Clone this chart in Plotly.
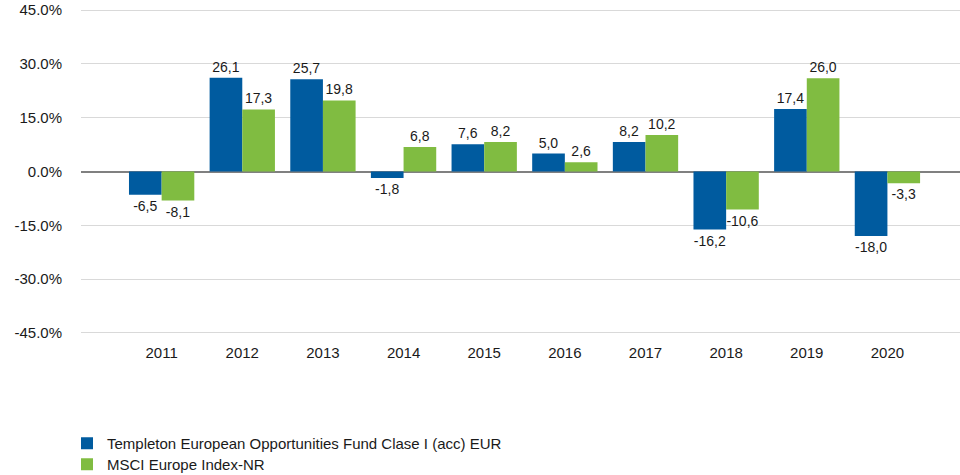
import plotly.graph_objects as go

years = ["2011", "2012", "2013", "2014", "2015", "2016", "2017", "2018", "2019", "2020"]
fund = [-6.5, 26.1, 25.7, -1.8, 7.6, 5.0, 8.2, -16.2, 17.4, -18.0]
index = [-8.1, 17.3, 19.8, 6.8, 8.2, 2.6, 10.2, -10.6, 26.0, -3.3]
fund_name = "Templeton European Opportunities Fund Clase I (acc) EUR"
index_name = "MSCI Europe Index-NR"
y_ticks = [-45, -30, -15, 0, 15, 30, 45]
y_ticklabels = ["-45.0%", "-30.0%", "-15.0%", "0.0%", "15.0%", "30.0%", "45.0%"]

BLUE = "#005B9F"
GREEN = "#80BC41"
FONT = "Liberation Sans, Arial, sans-serif"
TXT = "#1a1a1a"


def lab(v):
    return f"{v:.1f}".replace(".", ",")


fig = go.Figure()
for name, vals, col, lg in [(fund_name, fund, BLUE, "legend"), (index_name, index, GREEN, "legend2")]:
    fig.add_trace(go.Bar(
        x=years, y=vals, name=name, marker=dict(color=col, line=dict(width=0)),
        text=[lab(v) for v in vals], textposition="outside",
        textfont=dict(family=FONT, size=14, color=TXT),
        constraintext="none", cliponaxis=False, hoverinfo="skip",
        legend=lg,
    ))

leg_common = dict(orientation="v", xref="container", yref="container",
                  x=0.0698, xanchor="left", yanchor="middle",
                  font=dict(family=FONT, size=15, color=TXT),
                  bgcolor="rgba(0,0,0,0)", borderwidth=0)

fig.update_layout(
    width=960, height=475,
    margin=dict(l=81, r=0, t=9, b=141, autoexpand=False),
    paper_bgcolor="white", plot_bgcolor="white",
    barmode="group", bargap=0.19, bargroupgap=0,
    font=dict(family=FONT, size=15, color=TXT),
    showlegend=True,
    legend=dict(y=1 - 443.5 / 475, **leg_common),
    legend2=dict(y=1 - 464.5 / 475, **leg_common),
    xaxis=dict(range=[-1.0, 9.9], showgrid=False, showline=False, ticks="",
               tickfont=dict(size=15), ticklabelstandoff=8),
    yaxis=dict(range=[-45.3, 45.3], tickvals=y_ticks, ticktext=y_ticklabels,
               showgrid=True, gridcolor="#d9d9d9", gridwidth=1,
               zeroline=True, zerolinecolor="#808080", zerolinewidth=2,
               showline=False, ticks="", tickfont=dict(size=15), ticklabelstandoff=18,
               ticklabeloverflow="allow"),
)

fig.write_html("out.html", config={"displayModeBar": False},
               post_script="document.body.style.margin='0';document.body.style.overflow='hidden';")
